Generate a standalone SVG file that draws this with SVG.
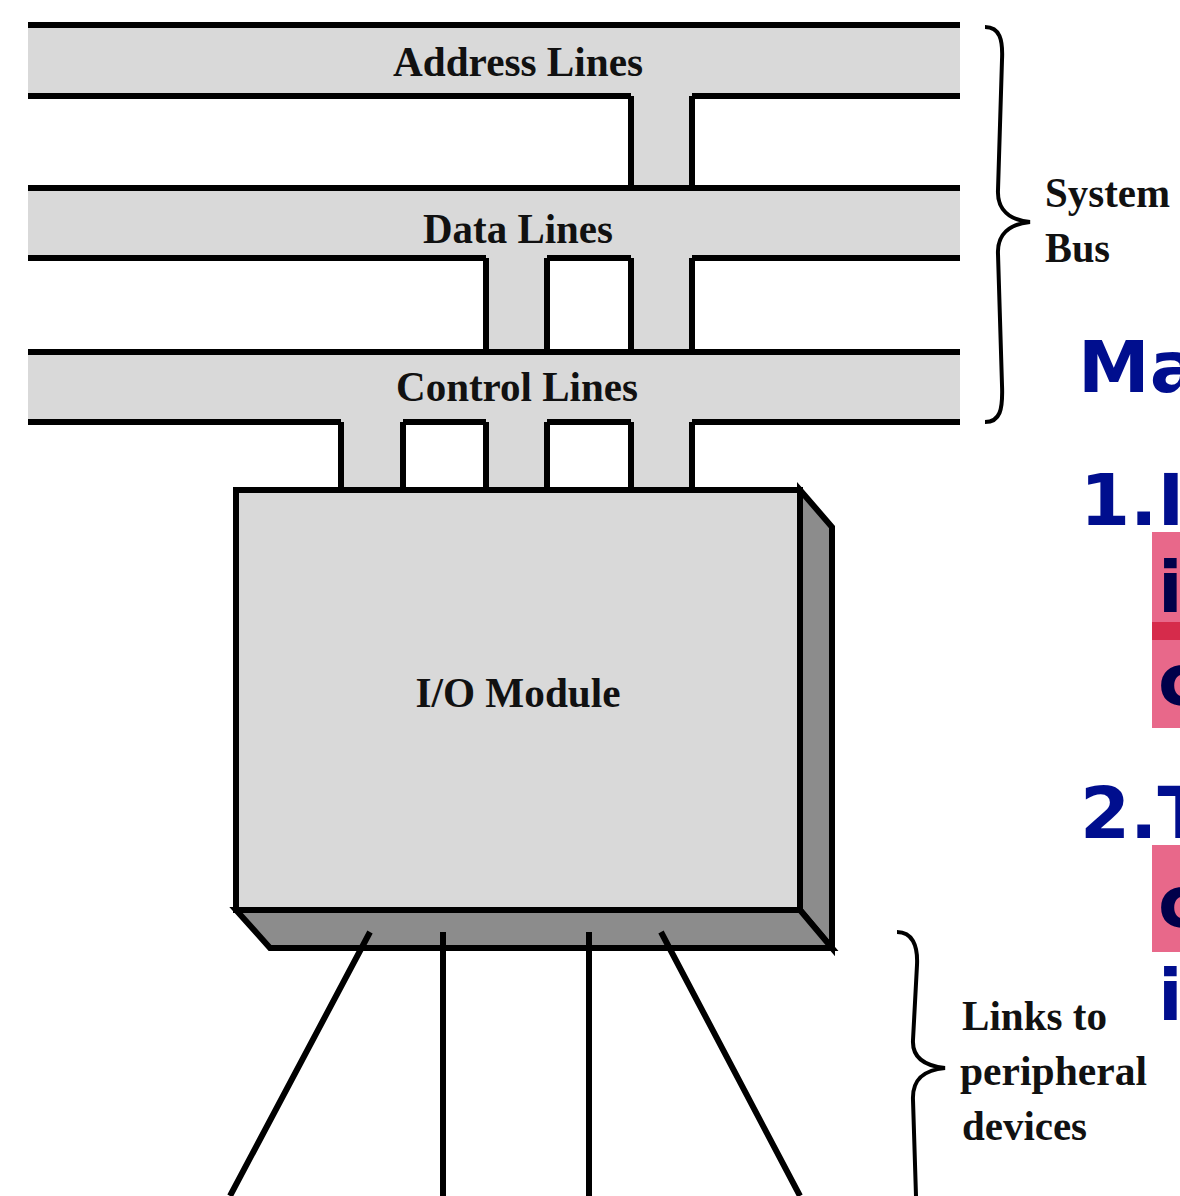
<svg xmlns="http://www.w3.org/2000/svg" width="1180" height="1196" viewBox="0 0 1180 1196">
<style>
.fill{fill:#d9d9d9;stroke:none}
.ln{stroke:#000;stroke-width:6;fill:none;stroke-linecap:butt}
.lbl{font-family:"Liberation Serif","Times New Roman",serif;font-weight:bold;fill:#111}
.big{font-family:"DejaVu Sans",sans-serif;font-weight:bold;font-size:72px;fill:#000e8e}
.dk{fill:#00004a}
.brace{stroke:#000;stroke-width:4;fill:none}
</style>
<rect width="1180" height="1196" fill="#fff"/>
<g id="bus">
  <g id="address-bus">
    <rect class="fill" x="28" y="25" width="932" height="71"/>
    <rect class="fill" x="631" y="96" width="61" height="394"/>
  </g>
  <g id="data-bus">
    <rect class="fill" x="28" y="188" width="932" height="70"/>
    <rect class="fill" x="486" y="258" width="61" height="232"/>
  </g>
  <g id="control-bus">
    <rect class="fill" x="28" y="352" width="932" height="70"/>
    <rect class="fill" x="341" y="422" width="62" height="68"/>
  </g>
  <g id="bus-lines">
    <path class="ln" d="M28 25H960 M28 96H631 M692 96H960"/>
    <path class="ln" d="M28 188H960 M28 258H486 M547 258H631 M692 258H960"/>
    <path class="ln" d="M28 352H960 M28 422H341 M403 422H486 M547 422H631 M692 422H960"/>
    <path class="ln" d="M631 96V188 M692 96V188 M631 258V352 M692 258V352 M631 422V490 M692 422V490"/>
    <path class="ln" d="M486 258V352 M547 258V352 M486 422V490 M547 422V490"/>
    <path class="ln" d="M341 422V490 M403 422V490"/>
  </g>
  <text class="lbl" x="518" y="76" font-size="42" text-anchor="middle" textLength="250" lengthAdjust="spacingAndGlyphs">Address Lines</text>
  <text class="lbl" x="518" y="243" font-size="42" text-anchor="middle" textLength="190" lengthAdjust="spacingAndGlyphs">Data Lines</text>
  <text class="lbl" x="517" y="401" font-size="42" text-anchor="middle" textLength="242" lengthAdjust="spacingAndGlyphs">Control Lines</text>
</g>
<g id="io-module">
  <rect x="236" y="490" width="564" height="420" fill="#d9d9d9" stroke="#000" stroke-width="6"/>
  <polygon points="800,490 832,527 832,948 800,910" fill="#8c8c8c" stroke="#000" stroke-width="6" stroke-linejoin="miter"/>
  <polygon points="236,910 800,910 832,948 270,948" fill="#8c8c8c" stroke="#000" stroke-width="6" stroke-linejoin="miter"/>
  <text class="lbl" x="518" y="707" font-size="42" text-anchor="middle" textLength="205" lengthAdjust="spacingAndGlyphs">I/O Module</text>
</g>
<g id="connectors">
  <path class="ln" stroke-width="5" d="M370 932L230 1196 M443 932V1196 M589 932V1196 M661 932L800 1196"/>
</g>
<g id="system-bus-label">
  <path class="brace" d="M985 27C1000 27 1003 40 1002 60L998 190C997 210 1010 220 1030 222C1010 224 997 234 998 254L1002 385C1003 410 1000 422 985 422"/>
  <text class="lbl" x="1045" y="207" font-size="42" textLength="125" lengthAdjust="spacingAndGlyphs">System</text>
  <text class="lbl" x="1045" y="262" font-size="42" textLength="65" lengthAdjust="spacingAndGlyphs">Bus</text>
</g>
<g id="links-label">
  <path class="brace" d="M897 932C912 932 918 945 917 965L913 1040C912 1058 925 1066 945 1068C925 1070 912 1078 913 1100L916 1196"/>
  <text class="lbl" x="962" y="1030" font-size="42" textLength="145" lengthAdjust="spacingAndGlyphs">Links to</text>
  <text class="lbl" x="960" y="1085" font-size="42" textLength="187" lengthAdjust="spacingAndGlyphs">peripheral</text>
  <text class="lbl" x="962" y="1140" font-size="42" textLength="125" lengthAdjust="spacingAndGlyphs">devices</text>
</g>
<g id="side-text">
  <rect x="1152" y="532" width="28" height="196" fill="#e8688a"/>
  <rect x="1152" y="622" width="28" height="18" fill="#d62b4b"/>
  <rect x="1152" y="845" width="28" height="107" fill="#e8688a"/>
  <text class="big" x="1078" y="392">Ma</text>
  <text class="big" x="1080" y="525">1.I</text>
  <text class="big dk" x="1158" y="612">i</text>
  <text class="big dk" x="1158" y="705">c</text>
  <text class="big" x="1080" y="838">2.T</text>
  <text class="big dk" x="1158" y="927">c</text>
  <text class="big" x="1158" y="1020">i</text>
</g>
</svg>
